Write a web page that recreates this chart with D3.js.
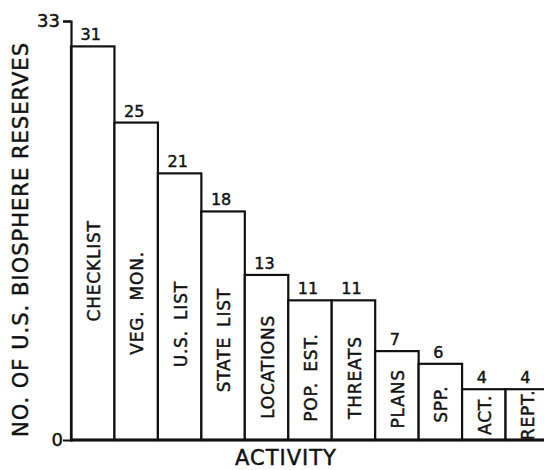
<!DOCTYPE html>
<html>
<head>
<meta charset="utf-8">
<script src="https://cdn.jsdelivr.net/npm/d3@7"></script>
<style>
  body { margin: 0; background: #fff; }
  svg { display: block; }
  text { font-family: "DejaVu Sans", sans-serif; fill: #111; stroke: #111; stroke-width: 0.45px; }
</style>
</head>
<body>
<div id="chart"></div>
<script>
// activity categories and counts of reserves
const ACTIVITIES = ["CHECKLIST", "VEG. MON.", "U.S. LIST", "STATE LIST", "LOCATIONS", "POP. EST.", "THREATS", "PLANS", "SPP.", "ACT.", "REPT."]
const COUNTS = [31, 25, 21, 18, 13, 11, 11, 7, 6, 4, 4]
const Y_TICKS = [0, 33]

const width = 544, height = 470
const margin = { top: 21, right: -5, bottom: 30, left: 71 }

const svg = d3.select("#chart").append("svg")
    .attr("width", width)
    .attr("height", height)

const data = ACTIVITIES.map((a, i) => ({ key: a, value: COUNTS[i] }))

// scales
const x = d3.scaleBand()
    .domain(ACTIVITIES)
    .range([margin.left, width - margin.right])
    .padding(0)

const y = d3.scaleLinear()
    .domain([0, 33])
    .range([height - margin.bottom, margin.top])

// bars
const g = svg.selectAll(".bar")
    .data(data)
    .enter().append("g")
    .attr("class", "bar")

g.append("rect")
    .attr("x", d => x(d.key))
    .attr("y", d => y(d.value))
    .attr("width", x.bandwidth())
    .attr("height", d => y(0) - y(d.value))
    .attr("fill", "#fff")
    .attr("stroke", "#111")
    .attr("stroke-width", 2.2)

// value on top of each bar
g.append("text")
    .attr("x", d => x(d.key) + x.bandwidth() / 2 - 2)
    .attr("y", d => y(d.value) - 6)
    .attr("text-anchor", "middle")
    .style("font-size", "16px")
    .text(d => d.value)

// rotated names inside the bars
g.append("text")
    .attr("transform", d => "translate(" + (x(d.key) + x.bandwidth() / 2 + 1) + "," + y(d.value * 0.42 + 0.3) + ") rotate(-90)")
    .attr("text-anchor", "middle")
    .attr("dy", "0.36em")
    .style("font-size", "17px")
    .style("letter-spacing", "0.8px")
    .style("word-spacing", "4px")
    .text(d => d.key)

// y axis (just a line with a tick at the top)
const yAxis = d3.axisLeft(y).tickValues(Y_TICKS).tickSize(8).tickPadding(3)
const ya = svg.append("g")
    .attr("transform", "translate(" + margin.left + ",0)")
    .call(yAxis)
ya.select(".domain").attr("stroke", "#111").attr("stroke-width", 2.2)
ya.selectAll(".tick line").attr("stroke", "#111").attr("stroke-width", 2.2)
    .attr("display", d => d === 0 ? "none" : null)
ya.selectAll(".tick text")
    .style("font-size", "18px")
    .style("font-family", "DejaVu Sans, sans-serif")
    .attr("fill", "#111")
    .attr("x", d => d === 0 ? -8 : -11)

// baseline
svg.append("line")
    .attr("x1", margin.left - 1)
    .attr("x2", width)
    .attr("y1", y(0))
    .attr("y2", y(0))
    .attr("stroke", "#111")
    .attr("stroke-width", 3)

// axis titles
svg.append("text")
    .attr("transform", "translate(20," + 240 + ") rotate(-90)")
    .attr("text-anchor", "middle")
    .attr("dy", "0.36em")
    .attr("textLength", 394)
    .attr("lengthAdjust", "spacing")
    .style("font-size", "21px")
    .text("NO. OF U.S. BIOSPHERE RESERVES")

svg.append("text")
    .attr("x", 286)
    .attr("y", 465)
    .attr("text-anchor", "middle")
    .style("font-size", "21px")
    .style("letter-spacing", "1px")
    .text("ACTIVITY")
</script>
</body>
</html>
